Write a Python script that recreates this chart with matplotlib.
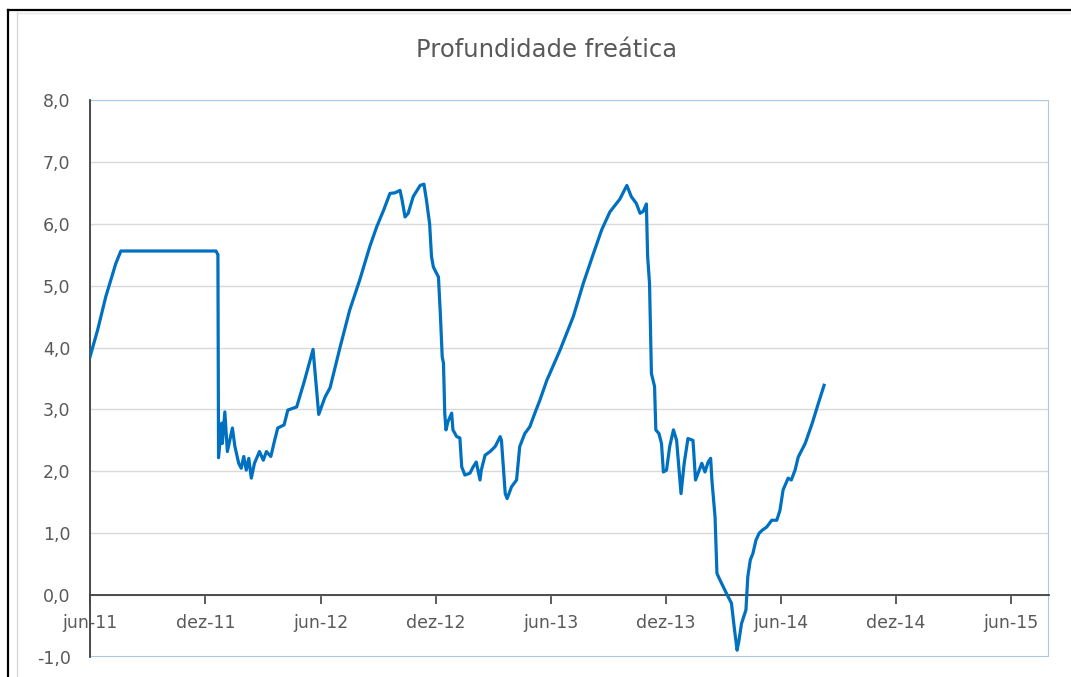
#%% Imports
import numpy as np
import pandas as pd
import matplotlib
matplotlib.use('Agg')
import matplotlib.pyplot as plt
from matplotlib.lines import Line2D
from matplotlib.patches import Rectangle

# Data: date, water table depth
dates = [
    '2011-06-01', '2011-06-13', '2011-06-26', '2011-07-12', '2011-07-20', '2011-12-18',
    '2011-12-21', '2011-12-22', '2011-12-27', '2011-12-28', '2012-01-01', '2012-01-05',
    '2012-01-13', '2012-01-17', '2012-01-23', '2012-01-27', '2012-01-31', '2012-02-04',
    '2012-02-08', '2012-02-12', '2012-02-17', '2012-02-25', '2012-03-02', '2012-03-07',
    '2012-03-14', '2012-03-20', '2012-03-25', '2012-04-04', '2012-04-10', '2012-04-24',
    '2012-05-06', '2012-05-20', '2012-05-24', '2012-05-29', '2012-06-08', '2012-06-16',
    '2012-07-02', '2012-07-17', '2012-08-02', '2012-08-18', '2012-08-29', '2012-09-09',
    '2012-09-19', '2012-09-27', '2012-10-05', '2012-10-08', '2012-10-13', '2012-10-18',
    '2012-10-26', '2012-11-06', '2012-11-12', '2012-11-16', '2012-11-21', '2012-11-24',
    '2012-11-27', '2012-12-05', '2012-12-08', '2012-12-11', '2012-12-13', '2012-12-15',
    '2012-12-17', '2012-12-20', '2012-12-26', '2012-12-28', '2013-01-03', '2013-01-08',
    '2013-01-11', '2013-01-16', '2013-01-24', '2013-01-29', '2013-02-03', '2013-02-09',
    '2013-02-11', '2013-02-17', '2013-02-25', '2013-03-05', '2013-03-13', '2013-03-15',
    '2013-03-21', '2013-03-24', '2013-03-31', '2013-04-08', '2013-04-13', '2013-04-21',
    '2013-04-29', '2013-05-07', '2013-05-15', '2013-05-26', '2013-06-16', '2013-07-07',
    '2013-07-23', '2013-08-08', '2013-08-21', '2013-09-03', '2013-09-19', '2013-09-30',
    '2013-10-07', '2013-10-15', '2013-10-21', '2013-10-26', '2013-10-31', '2013-11-02',
    '2013-11-05', '2013-11-08', '2013-11-13', '2013-11-15', '2013-11-20', '2013-11-24',
    '2013-11-27', '2013-12-02', '2013-12-07', '2013-12-13', '2013-12-18', '2013-12-22',
    '2013-12-25', '2013-12-30', '2014-01-05', '2014-01-13', '2014-01-17', '2014-01-21',
    '2014-01-27', '2014-02-01', '2014-02-06', '2014-02-10', '2014-02-12', '2014-02-17',
    '2014-02-20', '2014-02-25', '2014-03-07', '2014-03-15', '2014-03-20', '2014-03-24',
    '2014-03-27', '2014-03-31', '2014-04-07', '2014-04-10', '2014-04-14', '2014-04-18',
    '2014-04-23', '2014-04-28', '2014-05-03', '2014-05-10', '2014-05-18', '2014-05-26',
    '2014-05-31', '2014-06-05', '2014-06-13', '2014-06-18', '2014-06-24', '2014-06-29',
    '2014-07-10', '2014-07-21', '2014-07-31', '2014-08-09',
]
depth = [
    3.85, 4.28, 4.82, 5.36, 5.56, 5.56,
    5.50, 2.22, 2.78, 2.45, 2.96, 2.32,
    2.70, 2.40, 2.13, 2.05, 2.24, 2.02,
    2.21, 1.89, 2.13, 2.32, 2.18, 2.32,
    2.24, 2.50, 2.70, 2.75, 2.99, 3.04,
    3.45, 3.97, 3.50, 2.92, 3.20, 3.35,
    4.01, 4.60, 5.09, 5.63, 5.95, 6.22,
    6.49, 6.50, 6.54, 6.40, 6.11, 6.17,
    6.44, 6.62, 6.64, 6.38, 6.00, 5.47,
    5.30, 5.14, 4.55, 3.85, 3.75, 2.94,
    2.67, 2.80, 2.94, 2.67, 2.56, 2.54,
    2.07, 1.94, 1.97, 2.07, 2.15, 1.86,
    2.02, 2.26, 2.32, 2.40, 2.56, 2.50,
    1.64, 1.56, 1.75, 1.86, 2.40, 2.61,
    2.72, 2.94, 3.15, 3.47, 3.96, 4.50,
    5.04, 5.52, 5.90, 6.19, 6.40, 6.62,
    6.44, 6.33, 6.17, 6.20, 6.32, 5.47,
    5.04, 3.58, 3.37, 2.67, 2.61, 2.45,
    1.99, 2.02, 2.40, 2.67, 2.50, 2.02,
    1.64, 2.13, 2.53, 2.50, 1.86, 1.97,
    2.13, 1.99, 2.15, 2.21, 1.86, 1.26,
    0.35, 0.24, 0.03, -0.13, -0.57, -0.89,
    -0.73, -0.46, -0.24, 0.30, 0.57, 0.67,
    0.89, 1.00, 1.05, 1.10, 1.21, 1.21,
    1.37, 1.70, 1.89, 1.86, 2.02, 2.23,
    2.45, 2.77, 3.10, 3.39,
]
tick_dates  = ['2011-06-01', '2011-12-01', '2012-06-01', '2012-12-01', '2013-06-01',
               '2013-12-01', '2014-06-01', '2014-12-01', '2015-06-01']
tick_labels = ['jun-11', 'dez-11', 'jun-12', 'dez-12', 'jun-13',
               'dez-13', 'jun-14', 'dez-14', 'jun-15']
y_ticks     = [-1, 0, 1, 2, 3, 4, 5, 6, 7, 8]
x_range     = ('2011-06-01', '2015-08-01')

# Style params:
_W, _H       = 1071, 677
_LINE_COLOR  = '#0070C0'
_TEXT_COLOR  = '#595959'
_AXIS_COLOR  = '#404040'
_GRID_COLOR  = '#d9d9d9'
_FRAME_COLOR = '#a9c8ea'

plt.rcParams['font.family'] = ['DejaVu Sans']

#%% Plot
t = pd.to_datetime(dates)

fig = plt.figure(figsize=(_W / 100, _H / 100), dpi=100)
ax = fig.add_axes([90 / _W, 20 / _H, 959 / _W, 557 / _H])

ax.plot(t, depth, color=_LINE_COLOR, lw=2.3, solid_joinstyle='round', zorder=4)

ax.set_xlim(pd.to_datetime(x_range[0]), pd.to_datetime(x_range[1]))
ax.set_ylim(y_ticks[0], y_ticks[-1])
ax.set_xticks(pd.to_datetime(tick_dates))
ax.set_xticklabels(tick_labels)
ax.set_yticks(y_ticks)
ax.set_yticklabels([f'{v:.1f}'.replace('.', ',') for v in y_ticks])

ax.yaxis.grid(True, color=_GRID_COLOR, lw=1.0, zorder=0)
ax.set_axisbelow(True)

# frame: light blue box, dark left axis, dark x axis crossing at 0
ax.add_patch(Rectangle((0, 0), 1, 1, transform=ax.transAxes, fill=False,
                       edgecolor=_FRAME_COLOR, lw=1.5, zorder=1))
for s in ['top', 'right']:
    ax.spines[s].set_visible(False)
ax.spines['bottom'].set_position(('data', 0))
ax.spines['bottom'].set_color(_AXIS_COLOR)
ax.spines['bottom'].set_linewidth(1.3)
ax.spines['left'].set_color(_AXIS_COLOR)
ax.spines['left'].set_linewidth(1.3)

ax.tick_params(axis='x', direction='out', length=6.5, width=1.2, color=_AXIS_COLOR,
               labelsize=12.5, labelcolor=_TEXT_COLOR, pad=7)
ax.tick_params(axis='y', length=0, labelsize=12.5, labelcolor=_TEXT_COLOR, pad=14)

fig.text(547 / _W, 1 - 50 / _H, 'Profundidade freática', ha='center', va='center',
         fontsize=17.5, color=_TEXT_COLOR)

# outer borders of the sheet/chart area
fig.add_artist(Line2D([8 / _W, 8 / _W], [0, 1 - 10 / _H], color='black', lw=1.6))
fig.add_artist(Line2D([8 / _W, 1], [1 - 10 / _H, 1 - 10 / _H], color='black', lw=1.6))
fig.add_artist(Line2D([17 / _W, 17 / _W], [0, 1 - 12 / _H], color='#d9d9d9', lw=1.0))
fig.add_artist(Line2D([17 / _W, 1], [1 - 12.5 / _H, 1 - 12.5 / _H], color='#e6e6e6', lw=1.0))

fig.savefig('out.png', dpi=100)
